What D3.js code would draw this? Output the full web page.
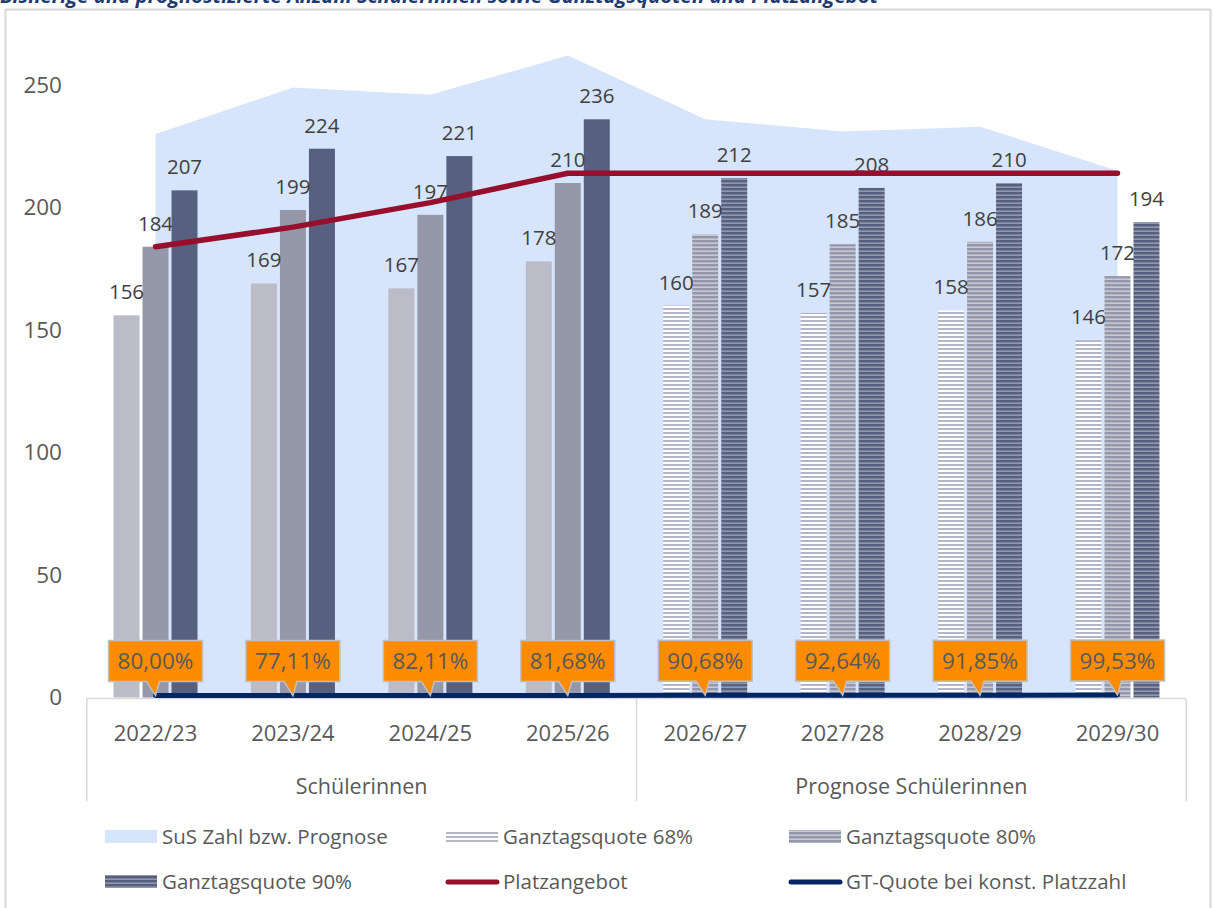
<!DOCTYPE html>
<html><head><meta charset="utf-8">
<script src="https://cdn.jsdelivr.net/npm/d3@7"></script>
<style>
html,body{margin:0;padding:0;background:#fff;}
svg{display:block;font-family:"Open Sans","Noto Sans",sans-serif;}
</style></head>
<body>
<svg id="chart" width="1214" height="908"></svg>
<script>
// ---- data ----
const categories = ["2022/23","2023/24","2024/25","2025/26","2026/27","2027/28","2028/29","2029/30"];
const groups = [{label:"Schülerinnen", from:0, to:3},{label:"Prognose Schülerinnen", from:4, to:7}];
const forecastFrom = 4;
const susValues = [230,249,246,262,236,231,233,215];
const quote68 = [156,169,167,178,160,157,158,146];
const quote80 = [184,199,197,210,189,185,186,172];
const quote90 = [207,224,221,236,212,208,210,194];
const platzangebot = [184,192,202,214,214,214,214,214];
const gtQuote = [0.8000,0.7711,0.8211,0.8168,0.9068,0.9264,0.9185,0.9953];
const gtQuoteLabels = ["80,00%","77,11%","82,11%","81,68%","90,68%","92,64%","91,85%","99,53%"];
const yTicks = [0,50,100,150,200,250];
const title = "Bisherige und prognostizierte Anzahl SchülerInnen sowie Ganztagsquoten und Platzangebot";

const svg = d3.select("#chart");
const defs = svg.append("defs");
function hatch(id, bg, fg, h){
  const p = defs.append("pattern").attr("id",id).attr("patternUnits","userSpaceOnUse")
    .attr("width",8).attr("height",4);
  p.append("rect").attr("width",8).attr("height",4).attr("fill",bg);
  p.append("rect").attr("y",0).attr("width",8).attr("height",h).attr("fill",fg);
}
hatch("h68","#ffffff","#b5b6c4",2);
hatch("h80","#c6c8d2","#9497a9",2.4);
hatch("h90","#9297ad","#56607f",2.4);

const colors = {sus:"#d6e5fc", s68:"#bcbcc9", s80:"#9598a9", s90:"#57617f", platz:"#970f2c", gt:"#002664", callout:"#ff8c00"};

// outer frame
svg.append("rect").attr("x",5.5).attr("y",9.5).attr("width",1205).attr("height",910)
  .attr("fill","none").attr("stroke","#d9d9d9").attr("stroke-width",2);

// title (partially cut at top, as in the reference)
svg.append("text").attr("x",0).attr("y",3).attr("fill","#1f3a6e")
  .attr("font-size",20.3).attr("font-weight","bold").attr("font-style","italic").text(title);

// scales
const x = d3.scaleBand().domain(categories).range([86.8,1186.2]);
const xs = d3.scaleBand().domain(["68","80","90"]).range([-42,42]).paddingInner(0.1034);
const y = d3.scaleLinear().domain([0,250]).range([697.5,85]);
const cx = c => x(c) + x.bandwidth()/2;

// y tick labels
svg.append("g").selectAll("text").data(yTicks).join("text")
  .attr("x",62).attr("y",d=>y(d)).attr("dy","0.35em").attr("text-anchor","end")
  .attr("font-size",22.5).attr("fill","#595959").text(d=>d);

// area
const area = d3.area().x((d,i)=>cx(categories[i])).y0(y(0)).y1(d=>y(d));
svg.append("path").datum(susValues).attr("d",area).attr("fill",colors.sus);

// axis box
const ax = svg.append("g").attr("stroke","#d9d9d9").attr("stroke-width",1.5);
ax.append("line").attr("x1",x.range()[0]).attr("x2",x.range()[1]).attr("y1",698.5).attr("y2",698.5);
[x.range()[0], x(categories[forecastFrom]), x.range()[1]].forEach(v=>{
  ax.append("line").attr("x1",v).attr("x2",v).attr("y1",698.5).attr("y2",801);
});

// bars
const series = [{k:"68",v:quote68,c:colors.s68,p:"url(#h68)"},{k:"80",v:quote80,c:colors.s80,p:"url(#h80)"},{k:"90",v:quote90,c:colors.s90,p:"url(#h90)"}];
const bars = svg.append("g");
series.forEach(s=>{
  bars.selectAll(null).data(s.v).join("rect")
    .attr("x",(d,i)=>cx(categories[i])+xs(s.k))
    .attr("width",xs.bandwidth())
    .attr("y",d=>y(d)).attr("height",d=>y(0)-y(d))
    .attr("fill",(d,i)=> i>=forecastFrom ? s.p : s.c);
});
// bar labels
const labels = svg.append("g").attr("font-size",20.5).attr("fill","#404040").attr("text-anchor","middle");
series.forEach(s=>{
  labels.selectAll(null).data(s.v).join("text")
    .attr("x",(d,i)=>cx(categories[i])+xs(s.k)+xs.bandwidth()/2)
    .attr("y",d=>y(d)-16).text(d=>d);
});

// Platzangebot line
const line = d3.line().x((d,i)=>cx(categories[i])).y(d=>y(d));
svg.append("path").datum(platzangebot).attr("d",line).attr("fill","none")
  .attr("stroke",colors.platz).attr("stroke-width",5.5).attr("stroke-linecap","round").attr("stroke-linejoin","round");

// GT-Quote line
svg.append("path").datum(gtQuote).attr("d",line).attr("fill","none")
  .attr("stroke",colors.gt).attr("stroke-width",5).attr("stroke-linecap","round");

// callouts
const cg = svg.append("g");
gtQuote.forEach((q,i)=>{
  const px = cx(categories[i]), py = y(q);
  const w = 94, h = 41, bottom = py - 14;
  const l = px - w/2, t = bottom - h;
  const d = `M${l},${t} H${l+w} V${bottom} H${px+4} L${px},${py} L${px-9},${bottom} H${l} Z`;
  cg.append("path").attr("d",d).attr("fill",colors.callout).attr("stroke","#bfbfbf").attr("stroke-width",1.5);
  cg.append("text").attr("x",px).attr("y",t+h/2).attr("dy","0.36em").attr("text-anchor","middle")
    .attr("font-size",22.5).attr("fill","#595959").text(gtQuoteLabels[i]);
});

// category labels
svg.append("g").selectAll("text").data(categories).join("text")
  .attr("x",d=>cx(d)).attr("y",733).attr("dy","0.35em").attr("text-anchor","middle")
  .attr("font-size",22).attr("fill","#595959").text(d=>d);
svg.append("g").selectAll("text").data(groups).join("text")
  .attr("x",g=>(x(categories[g.from]) + x(categories[g.to]) + x.bandwidth())/2).attr("y",786).attr("dy","0.35em")
  .attr("text-anchor","middle").attr("font-size",21.5).attr("fill","#595959").text(g=>g.label);

// legend
const legendItems = [
  {t:"SuS Zahl bzw. Prognose", type:"rect", f:colors.sus},
  {t:"Ganztagsquote 68%", type:"rect", f:"url(#h68)"},
  {t:"Ganztagsquote 80%", type:"rect", f:"url(#h80)"},
  {t:"Ganztagsquote 90%", type:"rect", f:"url(#h90)"},
  {t:"Platzangebot", type:"line", f:colors.platz},
  {t:"GT-Quote bei konst. Platzzahl", type:"line", f:colors.gt}
];
const colX = [105,446,789], rowY = [837,882];
const lg = svg.append("g");
legendItems.forEach((it,i)=>{
  const lx = colX[i%3], ly = rowY[Math.floor(i/3)];
  if(it.type==="rect"){
    lg.append("rect").attr("x",lx).attr("y",ly-7).attr("width",52).attr("height",13).attr("fill",it.f);
  } else {
    lg.append("line").attr("x1",lx+2).attr("x2",lx+51).attr("y1",ly).attr("y2",ly)
      .attr("stroke",it.f).attr("stroke-width",5).attr("stroke-linecap","round");
  }
  lg.append("text").attr("x",lx+57).attr("y",ly).attr("dy","0.35em").attr("font-size",20.5)
    .attr("fill","#595959").text(it.t);
});
</script>
</body></html>
